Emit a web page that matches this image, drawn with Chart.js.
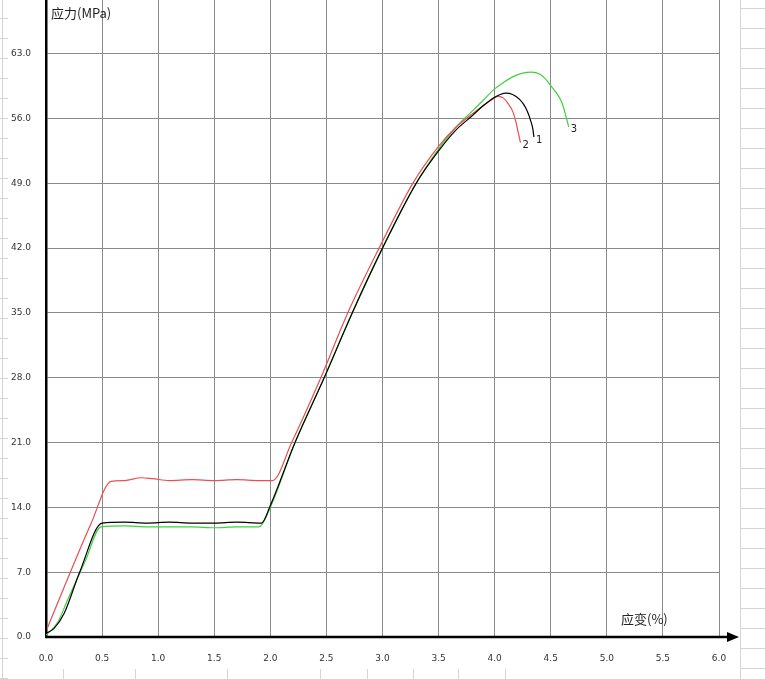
<!DOCTYPE html>
<html>
<head>
<meta charset="utf-8">
<script src="https://cdn.jsdelivr.net/npm/chart.js@4/dist/chart.umd.min.js"></script>
<style>
  html, body { margin: 0; padding: 0; background: #fff; }
  #wrap { width: 765px; height: 679px; position: relative; }
</style>
</head>
<body>
<div id="wrap"><canvas id="stressChart"></canvas></div>
<script>
// specimen curves: strain (%) / stress (MPa)
const strain1 = [0.0, 0.07, 0.16, 0.3, 0.5, 0.7, 0.9, 1.1, 1.3, 1.5, 1.7, 1.92, 2.0, 2.22, 2.48, 2.73, 3.0, 3.3, 3.5, 3.65, 3.8, 3.9, 4.0, 4.05, 4.1, 4.16, 4.22, 4.26, 4.29, 4.32, 4.34, 4.35];
const stress1 = [0.4, 0.9, 2.5, 7.0, 12.3, 12.4, 12.3, 12.4, 12.3, 12.3, 12.4, 12.3, 14.2, 21.0, 28.0, 35.0, 42.0, 49.0, 52.5, 54.7, 56.3, 57.4, 58.3, 58.6, 58.75, 58.6, 58.1, 57.5, 56.8, 55.8, 54.9, 54.0];

const strain2 = [0.01, 0.2, 0.4, 0.58, 0.7, 0.85, 0.95, 1.1, 1.3, 1.5, 1.7, 1.9, 2.02, 2.19, 2.45, 2.69, 2.97, 3.27, 3.5, 3.65, 3.78, 3.9, 3.97, 4.03, 4.08, 4.12, 4.16, 4.19, 4.21, 4.23];
const stress2 = [0.9, 6.5, 12.2, 16.8, 16.9, 17.2, 17.1, 16.9, 17.0, 16.9, 17.0, 16.9, 16.9, 21.0, 28.0, 35.0, 42.0, 49.0, 53.0, 55.0, 56.3, 57.4, 58.0, 58.4, 58.2, 57.6, 56.8, 55.6, 54.5, 53.4];

const strain3 = [0.0, 0.1, 0.2, 0.35, 0.49, 0.7, 0.9, 1.1, 1.3, 1.5, 1.7, 1.9, 2.0, 2.22, 2.48, 2.73, 3.0, 3.3, 3.5, 3.65, 3.8, 3.9, 4.0, 4.08, 4.16, 4.25, 4.33, 4.4, 4.45, 4.51, 4.56, 4.6, 4.63, 4.66];
const stress3 = [0.2, 1.5, 4.2, 8.2, 11.9, 12.0, 11.9, 11.9, 11.9, 11.8, 11.9, 11.9, 14.0, 21.0, 28.0, 35.0, 42.0, 49.0, 52.7, 55.0, 56.8, 58.0, 59.2, 59.9, 60.5, 60.9, 61.0, 60.8, 60.3, 59.4, 58.6, 57.7, 56.5, 55.1];

const seriesNames = ["1", "2", "3"];
const seriesColors = ["#000000", "#e65050", "#3cd23c"];
const xTickStep = 0.5;
const yTickStep = 7;

function toPoints(xs, ys) {
  return xs.map((x, i) => ({ x: x, y: ys[i] }));
}

const curves = [toPoints(strain1, stress1), toPoints(strain2, stress2), toPoints(strain3, stress3)];

// axis arrow, titles, curve numbers and sheet decoration
const extras = {
  id: "extras",
  beforeDraw(chart) {
    const ctx = chart.ctx;
    ctx.save();
    ctx.strokeStyle = "#d4d4d4";
    ctx.lineWidth = 1;
    ctx.beginPath();
    ctx.moveTo(740.5, 0); ctx.lineTo(740.5, 679);
    for (let y = 8; y < 679; y += 20) { ctx.moveTo(741, y + 0.5); ctx.lineTo(765, y + 0.5); }
    ctx.moveTo(2.5, 0); ctx.lineTo(2.5, 679);
    for (let y = 18; y < 679; y += 20) { ctx.moveTo(0, y + 0.5); ctx.lineTo(8, y + 0.5); }
    [63, 135, 227, 320, 367, 413, 458, 505].forEach(x => { ctx.moveTo(x + 0.5, 669); ctx.lineTo(x + 0.5, 679); });
    ctx.stroke();
    ctx.restore();
  },
  afterDraw(chart) {
    const ctx = chart.ctx;
    const a = chart.chartArea;
    const xs = chart.scales.x;
    const ys = chart.scales.y;
    const y0 = ys.getPixelForValue(0);
    ctx.save();
    ctx.strokeStyle = "#000";
    ctx.lineWidth = 2.5;
    ctx.beginPath();
    ctx.moveTo(a.left - 1, y0);
    ctx.lineTo(730, y0);
    ctx.stroke();
    ctx.fillStyle = "#000";
    ctx.beginPath();
    ctx.moveTo(727, y0 - 5);
    ctx.lineTo(739, y0);
    ctx.lineTo(727, y0 + 5);
    ctx.closePath();
    ctx.fill();

    ctx.fillStyle = "#222";
    ctx.font = "13px 'Noto Sans CJK SC'";
    ctx.textBaseline = "middle";
    ctx.textAlign = "left";
    ctx.fillText("应力(MPa)", 51, 13);
    ctx.fillText("应变(%)", 621, 619);

    ctx.font = "10px 'DejaVu Sans'";
    chart.data.datasets.forEach((ds, i) => {
      const last = ds.data[ds.data.length - 1];
      ctx.fillText(seriesNames[i], xs.getPixelForValue(last.x) + 2, ys.getPixelForValue(last.y) + 3);
    });
    ctx.restore();
  }
};

new Chart(document.getElementById("stressChart"), {
  type: "line",
  data: {
    datasets: curves.map((pts, i) => ({
      label: seriesNames[i],
      data: pts,
      borderColor: seriesColors[i],
      borderWidth: 1.2,
      pointRadius: 0,
      cubicInterpolationMode: "monotone",
      fill: false,
    })),
  },
  options: {
    responsive: true,
    maintainAspectRatio: false,
    animation: false,
    layout: { padding: { top: 0, right: 46, left: 0, bottom: 0 } },
    plugins: { legend: { display: false }, tooltip: { enabled: false } },
    scales: {
      x: {
        type: "linear",
        min: 0,
        max: 6,
        afterFit: (s) => { s.height = 42; s.paddingLeft = 0; s.paddingRight = 0; },
        ticks: {
          stepSize: xTickStep,
          padding: 16,
          color: "#333",
          font: { family: "DejaVu Sans", size: 9 },
          callback: (v) => Number(v).toFixed(1),
        },
        grid: { color: "#8a8a8a", lineWidth: 1, drawTicks: false },
        border: { display: false },
      },
      y: {
        min: 0,
        max: 68.8,
        afterFit: (s) => { s.width = 46; s.paddingTop = 0; s.paddingBottom = 0; },
        ticks: {
          stepSize: yTickStep,
          includeBounds: false,
          padding: 15,
          color: "#333",
          font: { family: "DejaVu Sans", size: 9 },
          callback: (v) => Number(v).toFixed(1),
        },
        grid: { color: "#8a8a8a", lineWidth: 1, drawTicks: false },
        border: { display: true, color: "#000", width: 2.5 },
      },
    },
  },
  plugins: [extras],
});
</script>
</body>
</html>
